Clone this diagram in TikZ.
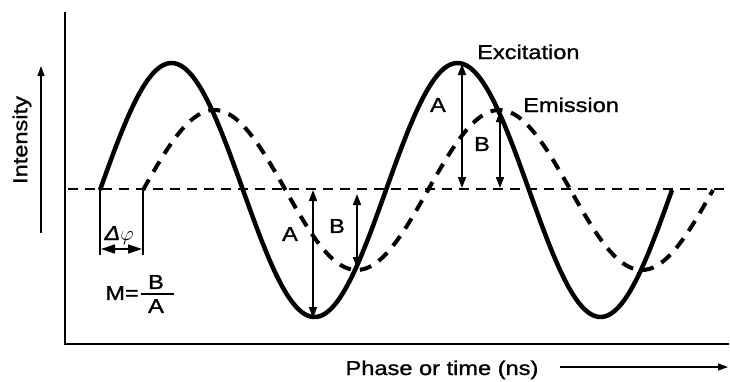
\documentclass[tikz,border=0pt]{standalone}
\usepackage{fontspec}
\setmainfont{Liberation Sans}[FakeStretch=1.18, FakeBold=1.2]
\usetikzlibrary{arrows.meta}
\tikzset{
  lbl/.style={inner sep=0pt, font=\fontsize{20}{22}\selectfont},
  dbl/.style={line width=1.6pt, {Triangle[length=11pt,width=8pt]}-{Triangle[length=11pt,width=8pt]}},
  dblshort/.style={line width=1.6pt, {Triangle[length=14pt,width=9pt]}-{Triangle[length=14pt,width=9pt]}},
  thin/.style={line width=1.6pt},
  solidwave/.style={line width=4.5pt, line join=round},
  dashwave/.style={line width=4pt, dash pattern=on 12pt off 9pt},
  baseline/.style={line width=1.5pt, dash pattern=on 10pt off 7pt},
  axis/.style={line width=2.5pt},
  dirarrow/.style={line width=1.1pt, -{Triangle[length=10pt,width=7pt]}}
}
\begin{document}
\begin{tikzpicture}[x=1pt,y=-1pt]
\useasboundingbox (0,0) rectangle (730,381);
% axes
\coordinate (ytop) at (65,12);
\coordinate (orig) at (65,344);
\coordinate (xend) at (729,344);
\draw[axis] (ytop) -- (orig) -- (xend);
% baseline
\coordinate (bl0) at (68,189);
\coordinate (bl1) at (730,189);
\draw[baseline] (bl0) -- (bl1);
% waves
\draw[dashwave] plot[domain=143:713, samples=200] (\x, {190 - 80*sin((\x-143)/285*360)});
\draw[solidwave] plot[domain=100:672, samples=240] (\x, {190 - 127*sin((\x-100)/286*360)});
% delta phi
\coordinate (d1t) at (100,189);
\coordinate (d1b) at (100,255);
\coordinate (d2t) at (143,189);
\coordinate (d2b) at (143,255);
\draw[thin] (d1t) -- (d1b);
\draw[thin] (d2t) -- (d2b);
\coordinate (da) at (101,249);
\coordinate (db) at (142,249);
\draw[dblshort] (da) -- (db);
\node[lbl, anchor=base] (dphi) at (119,240) {\itshape Δ$\varphi$};
% M = B/A
\node[lbl, anchor=east] (M) at (139,293) {M=};
\coordinate (bar0) at (141,294);
\coordinate (bar1) at (174,294);
\draw[line width=2pt] (bar0) -- (bar1);
\node[lbl] (fB) at (156,282) {B};
\node[lbl] (fA) at (156,306) {A};
% trough arrows
\coordinate (a1t) at (313,190);
\coordinate (a1b) at (313,318);
\draw[dbl] (a1t) -- (a1b);
\node[lbl] (lA1) at (290,234) {A};
\coordinate (b1t) at (357,194);
\coordinate (b1b) at (357,268);
\draw[dbl] (b1t) -- (b1b);
\node[lbl] (lB1) at (337,226) {B};
% peak arrows
\coordinate (a2t) at (462,64);
\coordinate (a2b) at (462,188);
\draw[dbl] (a2t) -- (a2b);
\node[lbl] (lA2) at (438,105) {A};
\coordinate (b2t) at (500,111);
\coordinate (b2b) at (500,188);
\draw[dbl] (b2t) -- (b2b);
\node[lbl] (lB2) at (482,144) {B};
% labels
\node[lbl, anchor=base west] (exc) at (477,59) {Excitation};
\node[lbl, anchor=base west] (emi) at (523,112) {Emission};
% intensity
\node[lbl, rotate=90] (int) at (22,140) {Intensity};
\coordinate (ia0) at (41,233);
\coordinate (ia1) at (41,66);
\draw[dirarrow] (ia0) -- (ia1);
% phase
\node[lbl, anchor=base] (ph) at (442,375) {Phase or time (ns)};
\coordinate (pa0) at (560,367);
\coordinate (pa1) at (728,367);
\draw[dirarrow] (pa0) -- (pa1);
\end{tikzpicture}
\end{document}
